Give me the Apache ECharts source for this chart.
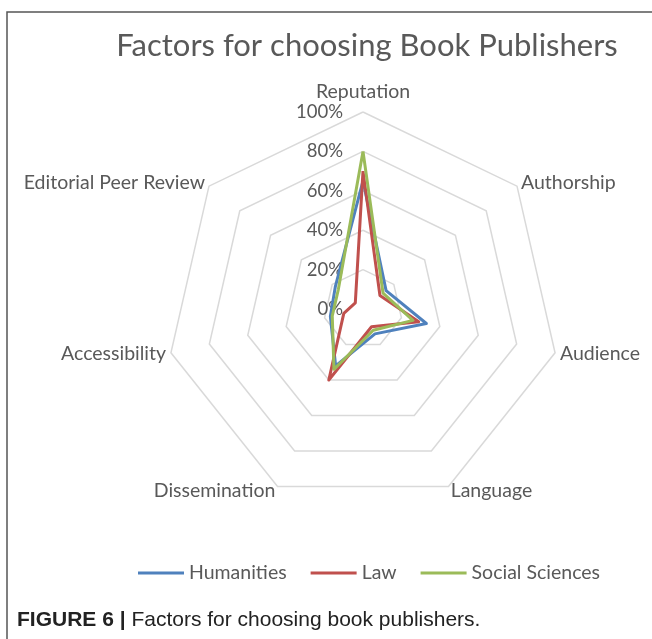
<!DOCTYPE html>
<html>
<head>
<meta charset="utf-8">
<script src="https://cdn.jsdelivr.net/npm/echarts@6/dist/echarts.min.js"></script>
<style>
  html, body { margin: 0; padding: 0; background: #fff; }
  #main { width: 652px; height: 639px; }
</style>
</head>
<body>
<div id="main"></div>
<script>
// 维度 (顺时针)
const factors = ['Reputation', 'Authorship', 'Audience', 'Language', 'Dissemination', 'Accessibility', 'Editorial Peer Review'];
// 各学科数据 (%)
const humanities = [65, 15, 33, 14, 32, 17, 18];
const law = [70, 11, 29, 10, 40, 10, 5];
const socialSciences = [80, 13, 26, 12, 34, 16, 16];
const seriesNames = ['Humanities', 'Law', 'Social Sciences'];
const seriesColors = ['#4F81BD', '#C0504D', '#9BBB59'];

const chart = echarts.init(document.getElementById('main'));
const gray = '#595959';
const font = 'Lato';

// echarts radar 逆时针排列, 这里换成顺时针
const order = [0, 6, 5, 4, 3, 2, 1];
const reorder = arr => order.map(i => arr[i]);

const indicator = reorder(factors).map((name, i) => {
  const item = { name: name, max: 100, min: 0 };
  if (i === 0) {
    item.nameGap = 10;
    item.axisLabel = { show: true, formatter: v => v + '%', color: gray, fontSize: 18.5, fontFamily: font, margin: 20, padding: [6, 0, 0, 0] };
  }
  return item;
});

const option = {
  backgroundColor: '#fff',
  title: {
    text: 'Factors for choosing Book Publishers',
    left: 362,
    top: 25,
    textAlign: 'center',
    textStyle: { color: gray, fontSize: 31, fontWeight: 'normal', fontFamily: font }
  },
  legend: {
    data: seriesNames,
    left: 133,
    top: 558,
    icon: 'rect',
    itemWidth: 46,
    itemHeight: 3,
    itemGap: 24,
    textStyle: { color: gray, fontSize: 19.5, fontFamily: font }
  },
  radar: {
    center: [363, 309],
    radius: 197,
    startAngle: 90,
    splitNumber: 5,
    shape: 'polygon',
    indicator: indicator,
    axisName: { color: gray, fontSize: 19.5, fontFamily: font },
    nameGap: 5,
    splitLine: { lineStyle: { color: '#d9d9d9', width: 1.5 } },
    splitArea: { show: false },
    axisLine: { show: false },
    axisTick: { show: false },
    axisLabel: { show: false }
  },
  series: [{
    type: 'radar',
    symbol: 'none',
    data: [humanities, law, socialSciences].map((vals, i) => ({
      name: seriesNames[i],
      value: reorder(vals),
      lineStyle: { color: seriesColors[i], width: 3 },
      itemStyle: { color: seriesColors[i] }
    }))
  }],
  graphic: [
    // 外框
    { type: 'polyline', shape: { points: [[7, 639], [7, 12], [652, 12]] }, style: { stroke: '#555', lineWidth: 1.5, fill: null } },
    {
      type: 'text', left: 17, top: 610,
      style: {
        text: '{b|FIGURE 6 | }Factors for choosing book publishers.',
        font: '21px "Liberation Sans"',
        fill: '#222',
        rich: { b: { fontWeight: 'bold', fontSize: 21, fontFamily: 'Liberation Sans', fill: '#222' } }
      }
    }
  ]
};
chart.setOption(option);
</script>
</body>
</html>
